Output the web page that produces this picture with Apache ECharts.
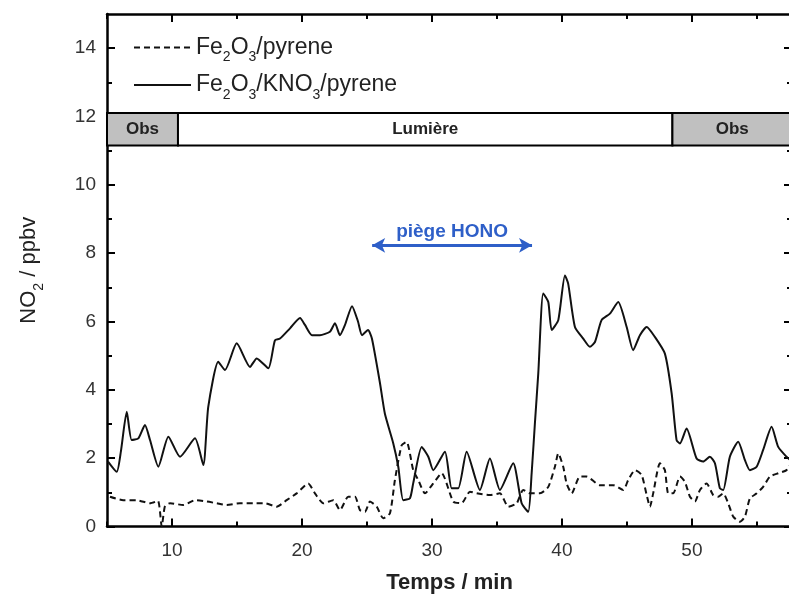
<!DOCTYPE html>
<html><head><meta charset="utf-8">
<script src="https://cdn.jsdelivr.net/npm/echarts@6/dist/echarts.min.js"></script>
<style>html,body{margin:0;padding:0;background:#fff}#c{width:789px;height:597px}</style>
</head><body><div id="c"></div>
<script>
// ---- data (minutes, ppbv) ----
const timeKNO3 = [5.08,5.75,6.07,6.52,6.9,7.41,7.92,8.31,8.95,9.72,10.62,11.77,12.41,12.79,13.56,14.08,14.98,16.0,16.52,17.41,17.92,
  18.31,19.08,19.85,20.23,20.77,21.38,22.15,22.54,22.92,23.31,23.85,24.31,24.62,25.08,25.38,
  26.0,26.38,27.02,27.41,27.79,28.31,28.56,29.21,29.72,30.1,31.0,31.52,32.02,32.67,33.69,34.46,35.23,36.25,36.9,37.41,37.67,37.92,
  38.18,38.56,38.95,39.21,39.72,40.23,40.48,41.0,41.64,42.15,42.54,43.05,43.69,44.33,44.98,45.48,46.0,46.52,47.15,47.92,
  48.44,48.82,49.08,49.59,50.36,50.87,51.38,51.77,52.15,52.41,52.92,53.56,54.08,54.46,54.98,55.48,56.13,56.64,57.28,57.7];
const no2KNO3 = [1.9,1.6,2.2,3.36,2.53,2.58,2.97,2.53,1.75,2.63,2.04,2.58,1.8,3.5,4.82,4.58,5.36,4.67,4.92,4.63,5.45,
  5.5,5.8,6.1,5.9,5.6,5.6,5.7,5.95,5.6,5.9,6.45,6.0,5.6,5.75,5.5,
  4.2,3.3,2.44,1.75,0.77,0.83,1.27,2.33,2.04,1.65,2.19,1.12,1.12,2.19,1.07,1.99,1.07,1.85,0.68,0.43,1.56,3.02,
  4.48,6.82,6.57,5.75,6.04,7.35,7.11,5.84,5.5,5.26,5.4,6.04,6.23,6.57,5.84,5.16,5.6,5.84,5.55,5.06,
  3.9,2.53,2.43,2.87,1.99,1.9,2.04,1.85,1.12,1.07,2.04,2.48,1.94,1.65,1.75,2.24,2.92,2.33,2.04,1.9];
const timePyr = [5.23,6.25,7.28,8.31,8.92,9.21,9.46,9.85,10.87,11.77,12.67,13.44,14.21,15.23,16.25,17.15,18.05,18.82,19.59,20.48,21.0,
  21.64,22.41,22.92,23.56,24.08,24.46,24.85,25.23,25.75,26.25,26.77,27.15,27.67,28.05,28.56,28.95,29.46,30.1,30.75,31.64,32.28,
  32.92,33.44,34.46,35.23,35.87,36.52,37.02,37.54,38.31,38.95,39.46,39.72,40.1,40.36,40.75,41.38,41.9,42.92,43.95,44.72,45.1,
  45.62,46.13,46.52,46.77,47.02,47.54,47.92,48.18,48.56,49.08,49.46,49.85,50.23,50.62,51.13,51.64,52.02,52.41,52.79,53.18,
  53.69,54.08,54.46,54.98,55.48,56.0,56.64,57.28,57.7];
const no2Pyr = [0.87,0.77,0.77,0.68,0.75,0.0,0.6,0.68,0.63,0.77,0.73,0.68,0.63,0.68,0.68,0.68,0.58,0.77,0.97,1.26,0.97,
  0.68,0.77,0.48,0.87,0.87,0.48,0.43,0.73,0.58,0.24,0.39,1.36,2.38,2.48,1.65,1.36,0.97,1.26,1.56,0.73,0.68,
  1.02,0.97,0.92,0.97,0.58,0.68,1.07,0.97,0.97,1.16,1.75,2.14,1.75,1.26,0.97,1.46,1.46,1.21,1.21,1.07,1.36,
  1.65,1.51,0.92,0.58,0.97,1.85,1.65,0.97,0.97,1.46,1.31,0.87,0.73,1.07,1.26,0.92,0.87,0.97,0.68,0.29,
  0.14,0.29,0.82,0.97,1.16,1.46,1.56,1.65,1.9];
const seriesNames = ['Fe2O3/pyrene', 'Fe2O3/KNO3/pyrene'];
const xTickValues = [10, 20, 30, 40, 50];
const xMinorValues = [5, 15, 25, 35, 45, 55];
const yTickValues = [0, 2, 4, 6, 8, 10, 12, 14];
const yMinorValues = [1, 3, 5, 7, 9, 11, 13];
const xRange = [5, 57.7];
const yRange = [0, 15];
const phaseLabels = ['Obs', 'Lumière', 'Obs'];
const phaseBounds = [5, 10.46, 48.5, 58.2];
const phaseBand = [11.15, 12.1];
const trapLabel = 'piège HONO';
const trapRange = [25.4, 37.7];
const trapLevel = 8.23;

// ---- chart ----
const zip = (xs, ys) => xs.map((x, i) => [x, ys[i]]);
const phaseFill = ['#c0c0c0', '#ffffff', '#c0c0c0'];
const AX = '#000';
const gridRect = {left: 107, right: -3, top: 14, bottom: 70.5, outerBoundsMode: 'none', containLabel: false};

function majorAxis(dim, pos, gi, show) {
  const range = dim === 'x' ? xRange : yRange;
  const ticks = dim === 'x' ? xTickValues : yTickValues;
  return {
    type: 'value', gridIndex: gi, position: pos, min: range[0], max: range[1],
    axisLine: {show: show, onZero: false, lineStyle: {color: AX, width: 2.5}},
    axisTick: {show: true, inside: true, length: 8, customValues: ticks, lineStyle: {color: AX, width: 2}},
    axisLabel: {show: false},
    splitLine: {show: false}
  };
}
function minorAxis(dim, pos) {
  const range = dim === 'x' ? xRange : yRange;
  const ticks = dim === 'x' ? xMinorValues : yMinorValues;
  return {
    type: 'value', gridIndex: 1, position: pos, min: range[0], max: range[1],
    axisLine: {show: false, onZero: false},
    axisTick: {show: true, inside: true, length: 5, customValues: ticks, lineStyle: {color: AX, width: 2}},
    axisLabel: {show: false},
    splitLine: {show: false}
  };
}

const xBottom = majorAxis('x', 'bottom', 0, true);
xBottom.axisLabel = {show: true, customValues: xTickValues, fontSize: 19, color: '#333', margin: 15, fontFamily: 'Liberation Sans'};
xBottom.name = 'Temps / min';
xBottom.nameLocation = 'middle';
xBottom.nameGap = 45;
xBottom.nameTextStyle = {fontSize: 22, fontWeight: 'bold', color: '#222', fontFamily: 'Liberation Sans'};
const yLeft = majorAxis('y', 'left', 0, true);
yLeft.axisLabel = {show: true, customValues: yTickValues, fontSize: 19, color: '#333', margin: 11, fontFamily: 'Liberation Sans'};
yLeft.name = '{a|NO}{s|2}{a| / ppbv}';
yLeft.nameLocation = 'middle';
yLeft.nameRotate = 90;
yLeft.nameGap = 65;
yLeft.nameTextStyle = {fontFamily: 'Liberation Sans', color: '#222', rich: {
  a: {fontSize: 22, color: '#222', fontFamily: 'Liberation Sans', lineHeight: 26},
  s: {fontSize: 14, color: '#222', fontFamily: 'Liberation Sans', verticalAlign: 'bottom', lineHeight: 14, padding: [0, 0, -4, 0]}
}};

const richLegend = {
  a: {fontSize: 23, color: '#222', fontFamily: 'Liberation Sans', lineHeight: 26},
  s: {fontSize: 14, color: '#222', fontFamily: 'Liberation Sans', verticalAlign: 'bottom', lineHeight: 14, padding: [0, 0, -4, 0]}
};
function fmtName(n) {
  return n.replace(/([A-Za-z\/]+)|(\d)/g, (m, w, d) => w ? '{a|' + w + '}' : '{s|' + d + '}');
}

const option = {
  animation: false,
  backgroundColor: '#fff',
  grid: [Object.assign({}, gridRect), Object.assign({}, gridRect)],
  xAxis: [xBottom, majorAxis('x', 'top', 0, true), minorAxis('x', 'bottom'), minorAxis('x', 'top')],
  yAxis: [yLeft, majorAxis('y', 'right', 0, true), minorAxis('y', 'left'), minorAxis('y', 'right')],
  legend: {
    orient: 'vertical', left: 133, top: 36, padding: 0, itemWidth: 57, itemHeight: 12, itemGap: 9,
    data: seriesNames,
    formatter: fmtName,
    itemStyle: {opacity: 0, color: 'rgba(0,0,0,0)', borderWidth: 0},
    textStyle: {rich: richLegend, fontSize: 23, color: '#222'}
  },
  series: [
    {
      name: seriesNames[0], type: 'line', xAxisIndex: 0, yAxisIndex: 0, symbol: 'none', smooth: 0.2,
      data: zip(timePyr, no2Pyr),
      lineStyle: {color: '#111', width: 2, type: [6, 4]},
      itemStyle: {color: '#111'},
      markLine: {
        silent: true, symbol: ['arrow', 'arrow'], symbolSize: [11, 13],
        lineStyle: {color: '#2e5fc8', width: 3, type: 'solid'},
        label: {show: true, position: 'insideMiddleTop', distance: 4, formatter: trapLabel,
          color: '#2e5fc8', fontWeight: 'bold', fontSize: 19, fontFamily: 'Liberation Sans'},
        data: [[{coord: [trapRange[0], trapLevel]}, {coord: [trapRange[1], trapLevel]}]]
      }
    },
    {
      name: seriesNames[1], type: 'line', xAxisIndex: 0, yAxisIndex: 0, symbol: 'none', smooth: 0.2,
      data: zip(timeKNO3, no2KNO3),
      lineStyle: {color: '#111', width: 2},
      itemStyle: {color: '#111'},
      markArea: {
        silent: true,
        label: {show: true, position: 'inside', fontWeight: 'bold', fontSize: 17, color: '#222', fontFamily: 'Liberation Sans'},
        data: phaseLabels.map((lab, i) => [
          {name: lab, xAxis: phaseBounds[i], yAxis: phaseBand[0],
            itemStyle: {color: phaseFill[i], borderColor: '#000', borderWidth: 2}},
          {xAxis: phaseBounds[i + 1], yAxis: phaseBand[1]}
        ])
      }
    }
  ]
};
const chart = echarts.init(document.getElementById('c'), null, {renderer: 'canvas'});
chart.setOption(option);
</script></body></html>
